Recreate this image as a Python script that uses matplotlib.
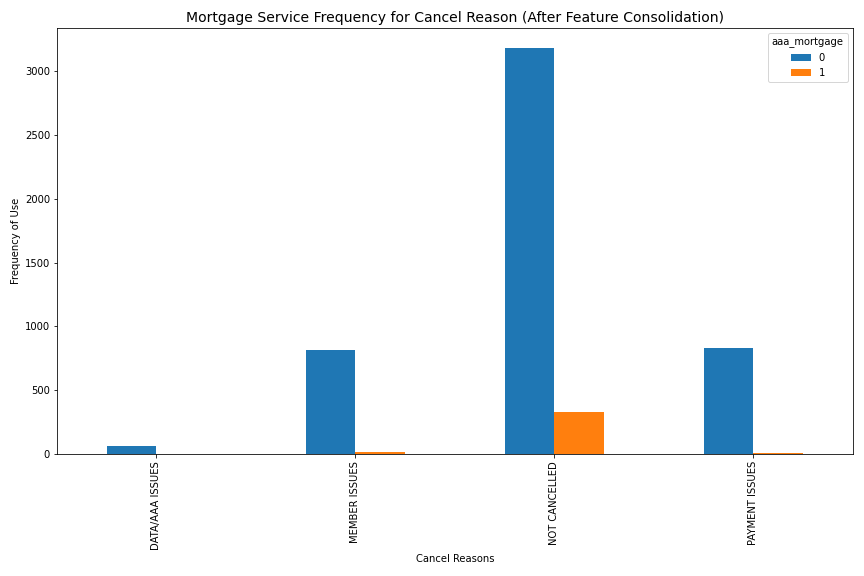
import matplotlib
matplotlib.use("Agg")
import matplotlib.pyplot as plt
import numpy as np

categories = ["DATA/AAA ISSUES", "MEMBER ISSUES", "NOT CANCELLED", "PAYMENT ISSUES"]
series0 = [60, 815, 3180, 830]
series1 = [2, 15, 330, 5]
legend_labels = ["0", "1"]

fig, ax = plt.subplots(figsize=(12, 8), dpi=72)
fig.subplots_adjust(left=0.066, right=0.987, top=0.951, bottom=0.212)
x = np.arange(len(categories))
w = 0.25
ax.bar(x - w/2, series0, w, color="#1f77b4", label=legend_labels[0])
ax.bar(x + w/2, series1, w, color="#ff7f0e", label=legend_labels[1])
ax.set_xticks(x)
ax.set_xticklabels(categories, rotation=90)
ax.set_xlim(-0.5, len(categories) - 0.5)
ax.set_ylim(0, 3339)
ax.set_xlabel("Cancel Reasons")
ax.set_ylabel("Frequency of Use")
ax.set_title("Mortgage Service Frequency for Cancel Reason (After Feature Consolidation)", fontsize=14)
ax.legend(title="aaa_mortgage", loc="upper right")
fig.savefig("out.png")
